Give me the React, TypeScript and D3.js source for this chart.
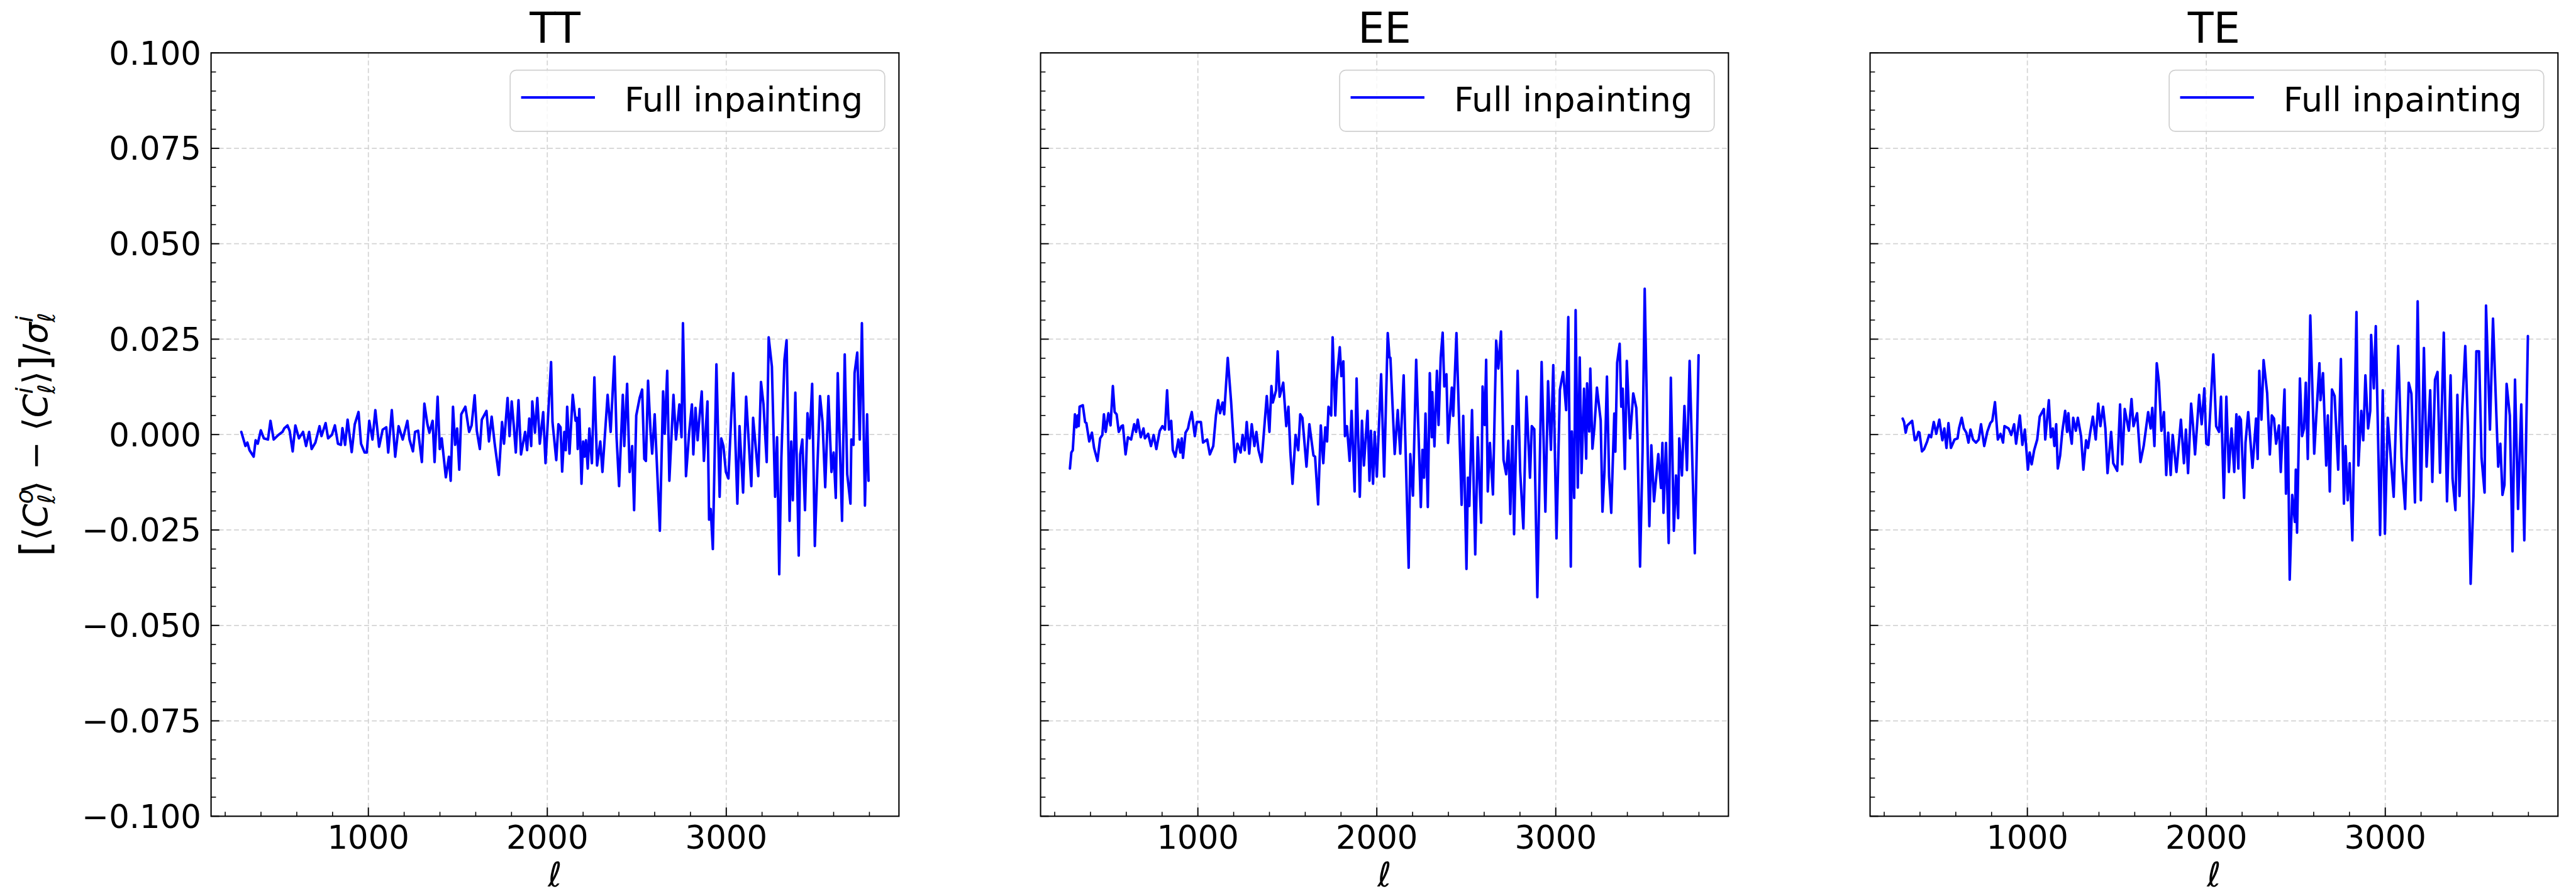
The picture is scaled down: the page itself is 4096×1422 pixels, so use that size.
import React from "react";
import * as d3 from "d3";

// ---------------- data ----------------
const panelTitles = ["TT", "EE", "TE"];
const legendLabel = "Full inpainting";
const xTickValues = [1000, 2000, 3000];
const xTickLabels = ["1000", "2000", "3000"];
const xMinorValues = [200, 400, 600, 800, 1200, 1400, 1600, 1800, 2200, 2400, 2600, 2800, 3200, 3400, 3600, 3800];
const yTickValues = [0.1, 0.075, 0.05, 0.025, 0, -0.025, -0.05, -0.075, -0.1];
const yTickLabels = ["0.100", "0.075", "0.050", "0.025", "0.000", "\u22120.025", "\u22120.050", "\u22120.075", "\u22120.100"];
const yMinorValues = d3.range(-100, 101, 5).filter((v) => v % 25 !== 0).map((v) => v / 1000);
const xDomain = [121, 3965];
const yDomain = [-0.1, 0.1];

const ttEll = [290, 313, 324, 336, 359, 370, 382, 399, 416, 439, 453, 471, 497, 520, 531, 548, 560, 577, 592, 612, 635, 652, 669, 683, 704, 727, 738, 761, 775, 796, 813, 830, 847, 855, 870, 884, 907, 924, 945, 959, 979, 991, 1005, 1023, 1039, 1060, 1080, 1100, 1111, 1131, 1150, 1169, 1192, 1218, 1230, 1249, 1261, 1278, 1299, 1313, 1330, 1341, 1359, 1370, 1387, 1399, 1410, 1433, 1450, 1460, 1473, 1485, 1496, 1508, 1519, 1542, 1563, 1577, 1594, 1606, 1623, 1634, 1660, 1674, 1689, 1706, 1729, 1747, 1758, 1778, 1789, 1801, 1812, 1824, 1839, 1853, 1876, 1887, 1899, 1910, 1916, 1931, 1944, 1958, 1977, 1990, 2021, 2029, 2050, 2062, 2074, 2083, 2095, 2103, 2111, 2124, 2142, 2158, 2165, 2170, 2179, 2191, 2200, 2208, 2216, 2226, 2235, 2249, 2263, 2278, 2296, 2308, 2337, 2354, 2375, 2387, 2401, 2422, 2430, 2446, 2460, 2474, 2485, 2497, 2516, 2530, 2542, 2551, 2563, 2577, 2586, 2600, 2629, 2647, 2656, 2670, 2682, 2705, 2719, 2738, 2750, 2758, 2775, 2793, 2808, 2816, 2828, 2840, 2846, 2863, 2875, 2895, 2904, 2913, 2925, 2945, 2963, 2972, 2984, 2998, 3012, 3039, 3062, 3074, 3094, 3111, 3140, 3150, 3179, 3194, 3208, 3226, 3237, 3255, 3273, 3284, 3296, 3308, 3325, 3337, 3354, 3363, 3372, 3386, 3405, 3413, 3425, 3440, 3454, 3466, 3480, 3495, 3510, 3524, 3538, 3553, 3571, 3588, 3600, 3612, 3623, 3647, 3662, 3676, 3694, 3699, 3711, 3717, 3732, 3746, 3758, 3775, 3787, 3795];
const ttVal = [0.0007, -0.003, -0.0021, -0.0041, -0.0058, -0.0015, -0.0024, 0.0011, -0.001, -0.0013, 0.0036, -0.0013, -0.0001, 0.0007, 0.0017, 0.0024, 0.001, -0.0044, 0.0024, -0.001, 0.0007, -0.003, 0.0007, -0.0038, -0.0021, 0.0022, -0.0004, 0.003, -0.001, -0.0001, 0.0024, -0.0024, -0.0027, 0.0017, -0.0027, 0.0039, -0.0046, 0.0027, 0.0059, -0.0024, -0.0047, -0.0047, 0.0036, -0.0013, 0.0064, -0.0032, 0.0013, 0.0019, -0.0047, 0.0064, -0.0058, 0.0022, -0.0013, 0.0036, -0.0013, -0.0044, 0.0007, 0.001, -0.0072, 0.0081, 0.0027, 0.0005, 0.0036, -0.0072, 0.0099, -0.0038, -0.001, -0.0112, -0.0058, -0.0121, 0.0073, -0.0027, 0.0016, -0.0092, 0.0053, 0.0073, 0.0007, 0.0024, 0.0103, 0.001, -0.0038, 0.0039, 0.0062, -0.0018, 0.0047, -0.0024, -0.0106, 0.0033, -0.0024, 0.0096, -0.0004, 0.0087, 0.0027, -0.0047, 0.009, -0.0052, 0.0007, -0.0041, 0.0042, -0.003, 0.0087, 0.0005, 0.0096, -0.0024, 0.0059, -0.0075, 0.019, 0.0033, -0.0067, 0.0027, 0.0019, -0.0097, 0.0007, -0.0041, 0.0073, -0.005, 0.0104, 0.0036, 0.0044, -0.0038, 0.0067, -0.0129, -0.0018, -0.0058, -0.0015, -0.0089, 0.0016, -0.0075, 0.015, -0.0081, -0.0018, -0.0098, 0.0104, 0.0007, 0.0204, -0.0007, -0.0135, 0.0104, -0.003, 0.0133, -0.0098, -0.003, -0.0198, 0.005, 0.0096, 0.0118, -0.0064, -0.0069, 0.0141, 0.0007, -0.005, 0.0053, -0.0252, 0.0113, 0.0002, 0.0167, -0.0121, 0.0104, -0.0013, 0.0079, -0.0007, 0.0292, -0.0109, 0.0007, 0.0079, -0.0052, 0.007, -0.0015, 0.0022, 0.0113, -0.0069, 0.0087, -0.0223, -0.0195, -0.03, 0.0184, -0.0163, -0.001, -0.003, -0.0098, -0.0115, 0.0161, -0.0181, 0.0022, -0.0152, 0.0099, -0.0135, 0.0044, -0.0109, 0.0138, 0.0079, -0.0072, 0.0255, 0.0178, -0.0163, -0.0007, -0.0366, -0.0061, 0.0195, 0.0247, -0.0226, -0.0018, -0.0172, 0.011, -0.0317, -0.0052, -0.0013, -0.0198, 0.0056, -0.001, 0.0133, -0.0292, -0.0075, 0.0101, 0.0033, -0.0138, 0.0101, -0.0098, -0.0047, -0.0166, 0.0161, -0.0226, 0.021, -0.0104, -0.0181, -0.0013, -0.0027, 0.0161, 0.0215, -0.0013, 0.0292, -0.0186, 0.0053, -0.0121];

const eeEll = [285, 293, 301, 313, 322, 328, 334, 339, 357, 370, 377, 393, 408, 420, 439, 454, 466, 475, 485, 500, 512, 525, 535, 546, 558, 573, 581, 596, 609, 627, 644, 655, 664, 681, 696, 704, 722, 738, 753, 768, 787, 802, 816, 828, 839, 851, 860, 874, 891, 902, 910, 917, 931, 945, 952, 966, 983, 994, 1017, 1029, 1052, 1067, 1086, 1101, 1113, 1124, 1138, 1147, 1167, 1186, 1207, 1221, 1239, 1250, 1262, 1273, 1287, 1301, 1316, 1327, 1339, 1356, 1385, 1400, 1411, 1419, 1437, 1446, 1457, 1477, 1494, 1506, 1517, 1529, 1546, 1561, 1572, 1584, 1607, 1623, 1646, 1655, 1672, 1687, 1701, 1712, 1722, 1730, 1745, 1753, 1768, 1776, 1793, 1802, 1813, 1822, 1833, 1848, 1859, 1876, 1887, 1905, 1917, 1928, 1948, 1959, 1967, 1979, 1988, 2000, 2024, 2041, 2061, 2071, 2076, 2100, 2117, 2131, 2150, 2178, 2187, 2202, 2220, 2246, 2255, 2264, 2272, 2285, 2296, 2307, 2310, 2322, 2336, 2345, 2357, 2368, 2377, 2389, 2398, 2419, 2427, 2445, 2474, 2483, 2501, 2509, 2517, 2532, 2550, 2564, 2583, 2591, 2603, 2611, 2620, 2632, 2649, 2667, 2679, 2694, 2708, 2723, 2735, 2746, 2758, 2767, 2787, 2801, 2819, 2836, 2856, 2866, 2880, 2897, 2921, 2942, 2957, 2973, 2986, 3004, 3023, 3041, 3058, 3070, 3084, 3090, 3103, 3111, 3123, 3134, 3144, 3158, 3170, 3175, 3187, 3193, 3205, 3216, 3230, 3251, 3261, 3272, 3286, 3298, 3310, 3327, 3333, 3343, 3357, 3366, 3374, 3386, 3397, 3415, 3433, 3450, 3456, 3471, 3485, 3497, 3514, 3523, 3534, 3549, 3573, 3588, 3596, 3602, 3616, 3631, 3643, 3660, 3672, 3684, 3690, 3705, 3719, 3733, 3748, 3760, 3777, 3798];
const eeVal = [-0.0089, -0.0047, -0.0041, 0.0053, 0.0019, 0.005, 0.0022, 0.0073, 0.0077, 0.0033, 0.003, -0.0018, 0.0005, -0.0035, -0.0069, -0.001, -0.0001, 0.0053, 0.0007, 0.0056, 0.0024, 0.0127, 0.0059, 0.0053, 0.0007, 0.0022, 0.0024, -0.0052, -0.0007, -0.0013, 0.0027, 0.0007, 0.0039, -0.0007, 0.0016, -0.001, 0.0002, -0.003, -0.0001, -0.0038, 0.001, 0.0022, 0.0013, 0.0116, 0.0013, 0.0036, -0.0041, -0.0058, -0.0013, -0.0047, -0.001, -0.0061, 0.0005, 0.0016, 0.0033, 0.0059, -0.0004, 0.0033, 0.0033, -0.0021, -0.0013, -0.0052, -0.003, 0.005, 0.009, 0.0056, 0.0084, 0.0053, 0.0201, 0.0084, -0.0072, -0.0024, -0.0047, -0.0001, -0.0041, 0.0033, -0.005, 0.0027, -0.003, 0.0007, -0.0041, -0.0072, 0.0101, 0.0007, 0.0127, 0.0084, 0.0116, 0.0218, 0.0099, 0.0136, 0.0022, 0.0073, -0.0047, -0.0129, -0.0001, -0.0041, 0.0053, 0.0044, -0.0084, 0.0027, -0.0055, -0.0058, -0.0183, 0.0024, -0.0075, 0.0019, -0.0018, 0.0073, 0.005, 0.0255, 0.005, 0.0144, 0.0229, 0.0153, 0.0192, -0.0004, 0.0022, -0.0069, 0.0062, -0.0149, 0.0147, -0.0163, 0.0036, -0.0081, 0.0062, -0.0121, 0.001, -0.0129, 0.0007, -0.011, 0.0158, -0.011, 0.0266, 0.0202, 0.0201, -0.0051, 0.0064, -0.005, 0.0155, -0.0349, -0.0051, -0.016, 0.0196, -0.019, -0.004, -0.0113, 0.0055, -0.019, 0.0161, -0.0007, 0.0111, -0.0031, 0.0167, 0.0025, 0.0202, 0.0267, 0.0126, 0.0158, -0.0022, 0.0123, 0.0049, 0.0266, -0.0184, 0.0049, -0.0352, -0.0113, -0.0187, 0.0064, -0.0314, -0.0007, -0.0231, 0.0126, 0.0025, 0.0196, -0.0149, -0.0022, -0.0157, 0.0246, 0.0173, 0.027, -0.0066, -0.0104, -0.0016, -0.0208, 0.0022, -0.0261, 0.0167, -0.0096, -0.0246, 0.0099, -0.0113, 0.0022, 0.0014, -0.0426, 0.019, -0.0202, 0.014, -0.004, 0.0182, -0.0272, 0.0117, 0.0164, 0.0064, 0.0308, -0.0346, 0.0008, -0.0166, 0.0326, -0.0139, 0.0202, -0.0101, 0.012, -0.0063, 0.0134, 0.0008, 0.0173, -0.0037, 0.0019, 0.0123, 0.0037, -0.0202, -0.0098, 0.0152, -0.011, -0.0205, 0.0055, -0.0045, 0.0188, 0.0238, 0.0073, 0.012, -0.009, 0.0193, -0.001, 0.0108, 0.007, -0.0001, -0.0346, -0.0045, 0.0382, -0.005, -0.024, -0.0028, -0.0175, -0.0051, -0.014, -0.0022, -0.0205, -0.0022, -0.0284, 0.0149, -0.0252, -0.0107, -0.0219, -0.001, -0.0107, 0.0075, -0.0093, 0.0193, -0.0016, -0.0311, 0.0208];

const teEll = [303, 311, 320, 329, 343, 356, 371, 379, 391, 397, 411, 423, 440, 451, 462, 477, 491, 508, 525, 536, 548, 559, 573, 593, 610, 618, 633, 645, 659, 671, 682, 696, 713, 728, 741, 759, 776, 793, 804, 819, 835, 850, 864, 872, 895, 910, 926, 937, 958, 972, 986, 1003, 1013, 1024, 1038, 1055, 1069, 1092, 1100, 1120, 1131, 1142, 1151, 1161, 1170, 1183, 1195, 1211, 1222, 1229, 1237, 1248, 1256, 1271, 1282, 1300, 1313, 1328, 1339, 1351, 1366, 1382, 1396, 1408, 1423, 1436, 1448, 1468, 1480, 1502, 1518, 1530, 1544, 1567, 1582, 1593, 1613, 1632, 1650, 1675, 1689, 1698, 1710, 1723, 1735, 1749, 1763, 1776, 1787, 1801, 1812, 1833, 1858, 1875, 1886, 1898, 1915, 1926, 1937, 1960, 1974, 1989, 2000, 2012, 2039, 2055, 2071, 2082, 2098, 2112, 2126, 2141, 2156, 2168, 2179, 2184, 2193, 2211, 2219, 2234, 2258, 2278, 2287, 2296, 2308, 2320, 2340, 2355, 2366, 2378, 2390, 2406, 2416, 2437, 2445, 2456, 2466, 2480, 2495, 2500, 2507, 2523, 2535, 2546, 2556, 2567, 2581, 2603, 2614, 2632, 2638, 2652, 2670, 2679, 2690, 2702, 2717, 2737, 2752, 2769, 2778, 2790, 2801, 2816, 2839, 2850, 2866, 2877, 2889, 2904, 2916, 2921, 2936, 2947, 2971, 2986, 2998, 3014, 3047, 3072, 3091, 3111, 3131, 3146, 3166, 3181, 3199, 3216, 3231, 3251, 3263, 3278, 3292, 3306, 3327, 3345, 3365, 3376, 3392, 3403, 3415, 3430, 3447, 3462, 3477, 3493, 3509, 3524, 3538, 3555, 3563, 3585, 3602, 3631, 3643, 3655, 3666, 3678, 3696, 3711, 3725, 3742, 3760, 3777, 3797];
const teVal = [0.0042, 0.0033, 0.0005, 0.0024, 0.003, 0.0036, -0.0015, -0.0013, 0.0007, 0.0005, -0.0044, -0.0038, -0.0018, -0.0001, -0.0007, 0.0033, 0.0002, 0.0039, -0.0015, 0.0016, -0.0035, 0.003, -0.0035, -0.0013, -0.001, 0.0016, 0.0044, 0.0016, 0.0005, -0.0021, 0.0013, -0.0013, -0.0021, -0.0013, 0.0027, -0.003, 0.0007, 0.003, 0.0036, 0.0085, -0.0013, 0.0002, -0.0021, 0.0022, 0.0016, -0.0001, 0.0027, -0.0024, 0.005, -0.0027, 0.0013, -0.0092, -0.0047, -0.0078, -0.0041, -0.0013, 0.0047, 0.0067, -0.0013, 0.009, -0.0007, 0.0016, -0.003, 0.0027, -0.0089, -0.0055, 0.0007, 0.0062, 0.0007, 0.0056, 0.001, -0.0024, 0.0044, 0.001, 0.0044, -0.0004, -0.0092, -0.0015, -0.0035, 0.0005, 0.0047, -0.0013, 0.0081, 0.0022, 0.0073, 0.0016, -0.0101, 0.0007, -0.0075, -0.0095, 0.0079, -0.0078, 0.0067, 0.001, 0.0093, 0.0022, 0.0056, -0.0072, -0.003, 0.0059, 0.0016, 0.007, -0.003, 0.0187, 0.0138, 0.001, 0.0059, -0.0106, 0.0005, -0.0106, -0.0001, -0.0098, 0.0039, -0.0075, 0.0013, -0.0101, 0.0081, 0.0022, -0.0052, 0.0104, 0.0027, 0.0121, -0.0024, -0.0027, 0.021, 0.0022, 0.0007, 0.0099, -0.0166, 0.0099, -0.0098, 0.0016, -0.0098, 0.0053, -0.0089, 0.0047, 0.0039, -0.0166, -0.0021, 0.0059, -0.0087, 0.0042, -0.0064, 0.0167, 0.0039, 0.0195, 0.0108, -0.0052, 0.005, 0.0042, -0.0024, 0.0024, -0.0098, 0.0118, -0.0155, 0.0019, -0.038, -0.0158, -0.0229, -0.0092, -0.0257, 0.0147, -0.0004, 0.0016, 0.0136, -0.0064, 0.0312, -0.005, 0.0044, 0.0187, 0.009, 0.0161, -0.0081, 0.005, -0.0149, 0.0118, 0.0101, -0.0092, 0.0198, -0.0181, -0.003, -0.0172, -0.0075, -0.0277, 0.0321, -0.0081, 0.0062, -0.0015, 0.0155, 0.0016, 0.0062, 0.0261, 0.0121, 0.0284, -0.0263, 0.0116, -0.026, 0.0044, -0.0163, 0.0232, -0.0061, -0.0195, 0.0136, 0.0107, -0.0178, 0.0349, -0.0172, 0.0227, -0.0084, 0.0116, -0.0124, 0.0144, 0.0164, -0.01, 0.0267, -0.0175, 0.0155, -0.0115, -0.0198, 0.0104, -0.0161, 0.0068, 0.0232, 0.0019, -0.0391, -0.0161, 0.0218, 0.0218, -0.0061, -0.0152, 0.0338, 0.0013, 0.0304, -0.0084, -0.0024, -0.0158, -0.0132, 0.0133, 0.005, -0.0306, 0.0144, -0.0195, 0.0079, -0.0277, 0.0258];

const panelEll = [ttEll, eeEll, teEll];
const panelVal = [ttVal, eeVal, teVal];

// ---------------- layout (reference pixel space) ----------------
const REF_W = 4711;
const REF_H = 1635;
const OUT_W = 4096;
const OUT_H = 1422;
const panelLefts = [386, 1903, 3420];
const panelWidth = 1258;
const plotTop = 96.5;
const plotBottom = 1493;
const FONT = "'DejaVu Sans', sans-serif";

function Panel({ index }: { index: number }) {
  const left = panelLefts[index];
  const right = left + panelWidth;
  const x = d3.scaleLinear().domain(xDomain).range([left, right]);
  const y = d3.scaleLinear().domain(yDomain).range([plotBottom, plotTop]);
  const pts: [number, number][] = panelEll[index].map((e, i) => [e, panelVal[index][i]]);
  const line = d3
    .line<[number, number]>()
    .x((d) => x(d[0]))
    .y((d) => y(d[1]));
  const gridColor = "#d4d4d4";
  const legendRight = right - 26;
  const legendLeft = legendRight - 685;
  const clipId = `clip-${index}`;
  return (
    <g>
      <defs>
        <clipPath id={clipId}>
          <rect x={left} y={plotTop} width={panelWidth} height={plotBottom - plotTop} />
        </clipPath>
      </defs>
      {/* grid */}
      {xTickValues.map((v) => (
        <line key={"gx" + v} x1={x(v)} x2={x(v)} y1={plotTop} y2={plotBottom} stroke={gridColor} strokeWidth={2} strokeDasharray="9 5" />
      ))}
      {yTickValues
        .filter((v) => Math.abs(v) < 0.09)
        .map((v) => (
          <line key={"gy" + v} x1={left} x2={right} y1={y(v)} y2={y(v)} stroke={gridColor} strokeWidth={2} strokeDasharray="9 5" />
        ))}
      {/* data */}
      <path d={line(pts) || ""} fill="none" stroke="#0000ff" strokeWidth={4.6} strokeLinejoin="round" strokeLinecap="round" clipPath={`url(#${clipId})`} />
      {/* ticks (inward) */}
      {xTickValues.map((v) => (
        <line key={"tx" + v} x1={x(v)} x2={x(v)} y1={plotBottom} y2={plotBottom - 16} stroke="#000" strokeWidth={2.2} />
      ))}
      {xMinorValues.map((v) => (
        <line key={"mx" + v} x1={x(v)} x2={x(v)} y1={plotBottom} y2={plotBottom - 8} stroke="#000" strokeWidth={1.8} />
      ))}
      {yTickValues.map((v) => (
        <line key={"ty" + v} x1={left} x2={left + 15} y1={y(v)} y2={y(v)} stroke="#000" strokeWidth={2.2} />
      ))}
      {yMinorValues.map((v) => (
        <line key={"my" + v} x1={left} x2={left + 9} y1={y(v)} y2={y(v)} stroke="#000" strokeWidth={1.8} />
      ))}
      {/* spines */}
      <rect x={left} y={plotTop} width={panelWidth} height={plotBottom - plotTop} fill="none" stroke="#000" strokeWidth={2.4} />
      {/* tick labels */}
      {xTickValues.map((v, i) => (
        <text key={"lx" + v} x={x(v)} y={1553} fontSize={59} fontFamily={FONT} textAnchor="middle" fill="#000">
          {xTickLabels[i]}
        </text>
      ))}
      {index === 0 &&
        yTickValues.map((v, i) => (
          <text key={"ly" + v} x={left - 18} y={y(v)} dy="0.36em" fontSize={59} fontFamily={FONT} textAnchor="end" fill="#000">
            {yTickLabels[i]}
          </text>
        ))}
      {/* title */}
      <text x={(left + right) / 2} y={78} fontSize={77} fontFamily={FONT} textAnchor="middle" fill="#000">
        {panelTitles[index]}
      </text>
      {/* x label */}
      <text x={(left + right) / 2} y={1622} fontSize={62} fontFamily={FONT} fontStyle="italic" textAnchor="middle" fill="#000">
        {"\u2113"}
      </text>
      {/* legend */}
      <rect x={legendLeft} y={128} width={685} height={112} rx={11} ry={11} fill="#fff" fillOpacity={0.8} stroke="#d0d0d0" strokeWidth={2} />
      <line x1={legendLeft + 20} x2={legendLeft + 155} y1={178} y2={178} stroke="#0000ff" strokeWidth={4.6} />
      <text x={legendLeft + 209} y={203} fontSize={62} fontFamily={FONT} fill="#000">
        {legendLabel}
      </text>
    </g>
  );
}

function YLabel() {
  const sub = 43;
  return (
    <text transform={`translate(86, ${(plotTop + plotBottom) / 2}) rotate(-90)`} fontSize={62} fontFamily={FONT} textAnchor="middle" fill="#000">
      <tspan fontSize={74} dy={4}>[</tspan>
      <tspan dy={-4}>{"\u27E8"}</tspan>
      <tspan fontStyle="italic">C</tspan>
      <tspan fontStyle="italic" fontSize={sub} dy={-26}>o</tspan>
      <tspan fontStyle="italic" fontSize={sub} dx={-26} dy={40}>{"\u2113"}</tspan>
      <tspan dy={-14}>{"\u27E9"}</tspan>
      <tspan>{" \u2212 "}</tspan>
      <tspan>{"\u27E8"}</tspan>
      <tspan fontStyle="italic">C</tspan>
      <tspan fontStyle="italic" fontSize={sub} dy={-26}>i</tspan>
      <tspan fontStyle="italic" fontSize={sub} dx={-12} dy={40}>{"\u2113"}</tspan>
      <tspan dy={-14}>{"\u27E9"}</tspan>
      <tspan fontSize={74} dy={4}>]</tspan>
      <tspan dy={-4}>/</tspan>
      <tspan fontStyle="italic">{"\u03C3"}</tspan>
      <tspan fontStyle="italic" fontSize={sub} dy={-26}>i</tspan>
      <tspan fontStyle="italic" fontSize={sub} dx={-12} dy={40}>{"\u2113"}</tspan>
    </text>
  );
}

export default function App() {
  return (
    <svg
      width={OUT_W}
      height={OUT_H}
      viewBox={`0 0 ${REF_W} ${REF_H}`}
      style={{ position: "absolute", left: 0, top: 0, background: "#fff", display: "block" }}
    >
      <rect x={0} y={0} width={REF_W} height={REF_H} fill="#fff" />
      {panelTitles.map((_, i) => (
        <Panel key={i} index={i} />
      ))}
      <YLabel />
    </svg>
  );
}
